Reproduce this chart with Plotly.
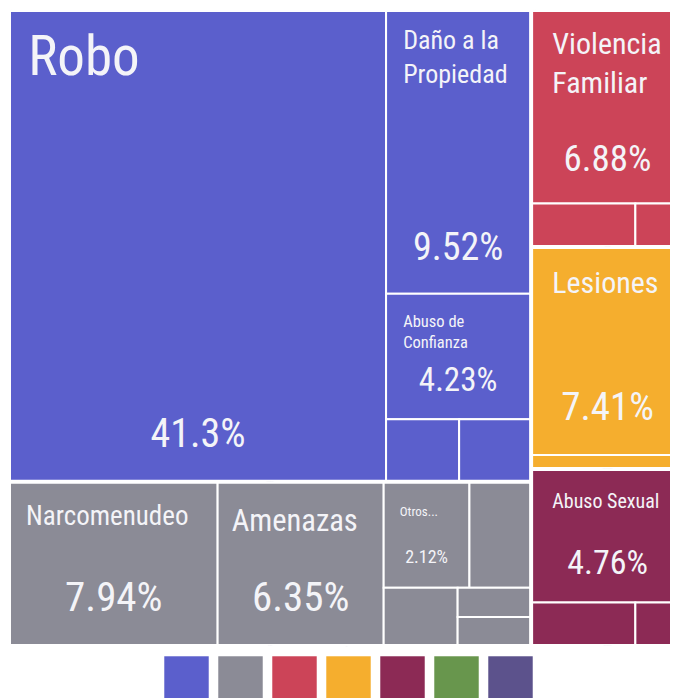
import plotly.graph_objects as go

# ---------------- data ----------------
groups = ["Contra el patrimonio", "Otros delitos", "Contra la familia",
          "Contra la vida y la integridad", "Contra la libertad sexual",
          "Contra la sociedad", "Otros bienes jurídicos"]
group_colors = ["#5B5FCC", "#8B8B96", "#CC4458", "#F5AE2E", "#8C2A55", "#68964D", "#5C528C"]

crimes = ["Robo", "Daño a la Propiedad", "Abuso de Confianza", "Fraude", "Despojo",
          "Narcomenudeo", "Amenazas", "Otros...", "Allanamiento de Morada", "Extorsión",
          "Portación de Arma Prohibida", "Falsificación",
          "Violencia Familiar", "Incumplimiento de Obligaciones", "Sustracción de Menores",
          "Lesiones", "Homicidio",
          "Abuso Sexual", "Violación", "Acoso Sexual"]
crime_group = [0, 0, 0, 0, 0,
               1, 1, 1, 1, 1, 1, 1,
               2, 2, 2,
               3, 3,
               4, 4, 4]
crime_share = [41.3, 9.52, 4.23, 1.05, 1.02,
               7.94, 6.35, 2.12, 1.5, 1.0, 0.5, 0.48,
               6.88, 1.04, 0.48,
               7.41, 0.46,
               4.76, 1.04, 0.48]
# crimes that carry a visible label (display text)
display_label = {
    "Robo": "Robo",
    "Daño a la Propiedad": "Daño a la<br>Propiedad",
    "Abuso de Confianza": "Abuso de<br>Confianza",
    "Narcomenudeo": "Narcomenudeo",
    "Amenazas": "Amenazas",
    "Otros...": "Otros...",
    "Violencia Familiar": "Violencia<br>Familiar",
    "Lesiones": "Lesiones",
    "Abuso Sexual": "Abuso Sexual",
}

# ---------------- styles ----------------
FONT = "Liberation Sans Narrow, Roboto Condensed, Arial Narrow, DejaVu Sans Condensed, sans-serif"
TEXT_COLOR = "#F4F4F8"
# label font size, top spacer size, left indent
label_style = {
    "Robo": (55, 66, 13), "Daño a la Propiedad": (26, 38, 14), "Abuso de Confianza": (16.5, 32, 14),
    "Narcomenudeo": (27, 42, 13), "Amenazas": (30.5, 48, 11), "Otros...": (13, 32, 13),
    "Violencia Familiar": (30, 43, 17), "Lesiones": (30, 45, 17), "Abuso Sexual": (20, 38, 17),
}
# percent font size, bottom spacer size
pct_style = {
    "Robo": (40, 20), "Daño a la Propiedad": (38, 20), "Abuso de Confianza": (33, 16.5),
    "Narcomenudeo": (41, 20), "Amenazas": (41, 20), "Otros...": (18, 14),
    "Violencia Familiar": (37, 19), "Lesiones": (39, 21), "Abuso Sexual": (34, 17),
}
SPACE_EM = 0.228


def spacer(V, indent):
    """Leading invisible spaces: one tall space (top padding) plus indent spaces no taller than it."""
    unit = SPACE_EM * V
    out = f"<span style='font-size:{V}px'>&nbsp;</span>"
    rest = indent - unit
    while rest >= unit:
        out += f"<span style='font-size:{V}px'>&nbsp;</span>"
        rest -= unit
    if rest > 0.5:
        out += f"<span style='font-size:{rest / SPACE_EM:.1f}px'>&nbsp;</span>"
    return out


# ---------------- hierarchy ----------------
ids = ["root"]
labels = ["Total"]
parents = [""]
values = [0.0]
colors = ["white"]
for gi, g in enumerate(groups):
    members = [s for s, cg in zip(crime_share, crime_group) if cg == gi]
    if not members:
        continue
    ids.append(f"g{gi}")
    labels.append(g)
    parents.append("root")
    values.append(sum(members))
    colors.append(group_colors[gi])
values[0] = sum(values[1:])
for ci, (c, cg, s) in enumerate(zip(crimes, crime_group, crime_share)):
    ids.append(f"c{ci}")
    labels.append(c)
    parents.append(f"g{cg}")
    values.append(s)
    colors.append(group_colors[cg])

label_text, label_fs, pct_text, pct_fs = [], [], [], []
for lab, v in zip(labels, values):
    if lab in display_label and lab in crimes:
        L, V, indent = label_style[lab]
        pre = spacer(V, indent)
        label_text.append("<br>".join(pre + line for line in display_label[lab].split("<br>")))
        label_fs.append(L)
        P, S = pct_style[lab]
        pct_text.append(f"<span style='font-size:{P}px'>{v}%</span><br>&nbsp;")
        pct_fs.append(S)
    else:
        label_text.append("")
        label_fs.append(12)
        pct_text.append("")
        pct_fs.append(12)

W, H_FIG = 677, 710
dom_y = [1 - 639 / H_FIG, 1 - 1 / H_FIG]
common = dict(ids=ids, labels=labels, parents=parents, values=values,
              branchvalues="total", sort=True,
              tiling=dict(packing="squarify", squarifyratio=1.618, pad=0),
              pathbar=dict(visible=False),
              domain=dict(x=[0, 1], y=dom_y),
              texttemplate="%{text}", hoverinfo="label+value")

fig = go.Figure()
fig.add_trace(go.Treemap(
    **common,
    text=label_text,
    textposition="top left",
    textfont=dict(family=FONT, color=TEXT_COLOR, size=label_fs),
    marker=dict(colors=colors, line=dict(color="white", width=2),
                pad=dict(t=1, l=1, r=1, b=1)),
    root=dict(color="white"),
))
fig.add_trace(go.Treemap(
    **common,
    text=pct_text,
    textposition="bottom center",
    textfont=dict(family=FONT, color=TEXT_COLOR, size=pct_fs),
    marker=dict(colors=["rgba(0,0,0,0)"] * len(ids), line=dict(color="rgba(0,0,0,0)", width=2),
                pad=dict(t=1, l=1, r=1, b=1)),
    root=dict(color="rgba(0,0,0,0)"),
))

# legend swatches
SWATCH_STEP = 54
fig.add_trace(go.Scatter(
    x=list(range(len(groups))), y=[0] * len(groups), text=groups,
    mode="markers", hoverinfo="text", showlegend=False, cliponaxis=False,
    marker=dict(symbol="square", size=45, color=group_colors,
                line=dict(color="rgba(255,255,255,0.55)", width=1)),
))
x0 = -178.5 / SWATCH_STEP
fig.update_xaxes(visible=False, range=[x0, x0 + W / SWATCH_STEP], fixedrange=True)
fig.update_yaxes(visible=False, range=[-1, 1], domain=[0, 2 * (H_FIG - 670.5) / H_FIG], fixedrange=True)

fig.update_layout(width=W, height=H_FIG, margin=dict(l=0, r=0, t=0, b=0),
                  paper_bgcolor="white", plot_bgcolor="white", showlegend=False,
                  font=dict(family=FONT))
fig.write_html("out.html")
